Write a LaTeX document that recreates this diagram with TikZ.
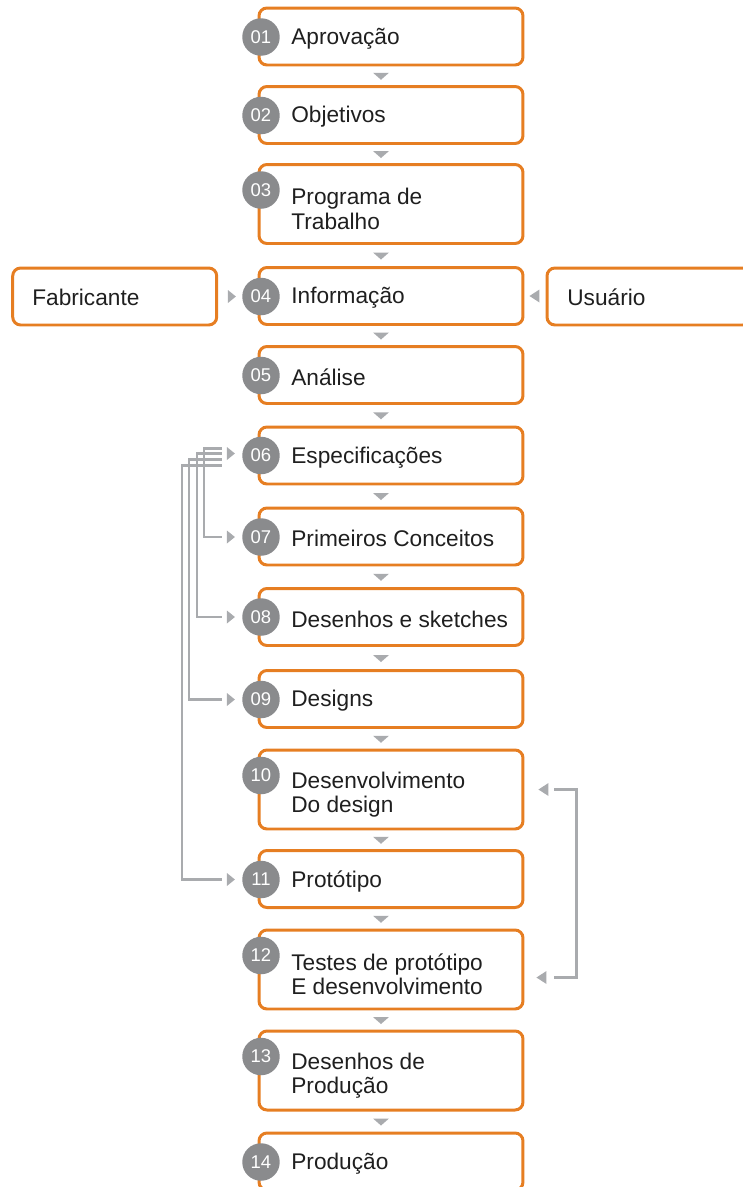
\documentclass[tikz,border=0pt]{standalone}
\usepackage{fontspec}
\setmainfont{Liberation Sans}
\usetikzlibrary{calc}

\definecolor{laranja}{HTML}{E67E22}
\definecolor{cinzaescuro}{HTML}{8A8B8D}
\definecolor{cinzaclaro}{HTML}{A9ABAE}

\begin{document}
\begin{tikzpicture}[x=0.02cm, y=-0.02cm,
    etapa/.style={draw=laranja, line width=1.7pt, rounded corners=4.5pt, minimum width=5.28cm, minimum height=1.14cm, inner sep=0pt},
    etapadupla/.style={etapa, minimum height=1.58cm},
    externo/.style={etapa, minimum width=4.08cm},
    rotulo/.style={anchor=west, align=left, inner sep=0pt, text=black!88, font=\fontsize{12.9}{13.8}\selectfont},
    numero/.style={circle, fill=cinzaescuro, text=white, minimum size=0.75cm, inner sep=0pt, font=\fontsize{10.5}{10.5}\selectfont},
    retorno/.style={draw=cinzaclaro, line width=1.5pt},
    ponta/.style={fill=cinzaclaro}]

    \useasboundingbox (0,0) rectangle (743,1187);

    % Caixas das etapas
    \node[etapa] (b01) at (391,36.5) {};
    \node[etapa] (b02) at (391,115) {};
    \node[etapadupla] (b03) at (391,204) {};
    \node[etapa] (b04) at (391,296) {};
    \node[etapa] (b05) at (391,375) {};
    \node[etapa] (b06) at (391,455.5) {};
    \node[etapa] (b07) at (391,536.5) {};
    \node[etapa] (b08) at (391,617) {};
    \node[etapa] (b09) at (391,699) {};
    \node[etapadupla] (b10) at (391,789.5) {};
    \node[etapa] (b11) at (391,879) {};
    \node[etapadupla] (b12) at (391,969.5) {};
    \node[etapadupla] (b13) at (391,1070.5) {};
    \node[etapa] (b14) at (391,1161.5) {};

    % Fontes externas
    \node[externo] (fab) at (114.7,296.5) {};
    \node[externo] (usu) at (649,296.5) {};
    \node[rotulo] (tfab) at (32,297.5) {Fabricante};
    \node[rotulo] (tusu) at (567,297.5) {Usuário};

    % Textos
    \node[rotulo] (t01) at (291,38.5) {Aprovação};
    \node[rotulo] (t02) at (291,117) {Objetivos};
    \node[rotulo] (t03) at (291,209) {Programa de\\Trabalho};
    \node[rotulo] (t04) at (291,298) {Informação};
    \node[rotulo] (t05) at (291,377) {Análise};
    \node[rotulo] (t06) at (291,457.5) {Especificações};
    \node[rotulo] (t07) at (291,538.5) {Primeiros Conceitos};
    \node[rotulo] (t08) at (291,619) {Desenhos e sketches};
    \node[rotulo] (t09) at (291,701) {Designs};
    \node[rotulo] (t10) at (291,794.5) {Desenvolvimento\\Do design};
    \node[rotulo] (t11) at (291,881) {Protótipo};
    \node[rotulo] (t12) at (291,974.5) {Testes de protótipo\\E desenvolvimento};
    \node[rotulo] (t13) at (291,1075.5) {Desenhos de\\Produção};
    \node[rotulo] (t14) at (291,1163.5) {Produção};

    % Numeros
    \node[numero] (n01) at (261,37) {01};
    \node[numero] (n02) at (261,115.5) {02};
    \node[numero] (n03) at (261,190) {03};
    \node[numero] (n04) at (261,296.5) {04};
    \node[numero] (n05) at (261,375.5) {05};
    \node[numero] (n06) at (261,455.5) {06};
    \node[numero] (n07) at (261,537) {07};
    \node[numero] (n08) at (261,617) {08};
    \node[numero] (n09) at (261,699.5) {09};
    \node[numero] (n10) at (261,775.5) {10};
    \node[numero] (n11) at (261,879.5) {11};
    \node[numero] (n12) at (261,955.5) {12};
    \node[numero] (n13) at (261,1056.5) {13};
    \node[numero] (n14) at (261,1162) {14};

    % Setas entre etapas
    \fill[ponta] ($(b01.south)!0.5!(b02.north)+(-10,4)$) -- ++(-8,-7) -- ++(16,0) -- cycle;
    \fill[ponta] ($(b02.south)!0.5!(b03.north)+(-10,4)$) -- ++(-8,-7) -- ++(16,0) -- cycle;
    \fill[ponta] ($(b03.south)!0.5!(b04.north)+(-10,4)$) -- ++(-8,-7) -- ++(16,0) -- cycle;
    \fill[ponta] ($(b04.south)!0.5!(b05.north)+(-10,4)$) -- ++(-8,-7) -- ++(16,0) -- cycle;
    \fill[ponta] ($(b05.south)!0.5!(b06.north)+(-10,4)$) -- ++(-8,-7) -- ++(16,0) -- cycle;
    \fill[ponta] ($(b06.south)!0.5!(b07.north)+(-10,4)$) -- ++(-8,-7) -- ++(16,0) -- cycle;
    \fill[ponta] ($(b07.south)!0.5!(b08.north)+(-10,4)$) -- ++(-8,-7) -- ++(16,0) -- cycle;
    \fill[ponta] ($(b08.south)!0.5!(b09.north)+(-10,4)$) -- ++(-8,-7) -- ++(16,0) -- cycle;
    \fill[ponta] ($(b09.south)!0.5!(b10.north)+(-10,4)$) -- ++(-8,-7) -- ++(16,0) -- cycle;
    \fill[ponta] ($(b10.south)!0.5!(b11.north)+(-10,4)$) -- ++(-8,-7) -- ++(16,0) -- cycle;
    \fill[ponta] ($(b11.south)!0.5!(b12.north)+(-10,4)$) -- ++(-8,-7) -- ++(16,0) -- cycle;
    \fill[ponta] ($(b12.south)!0.5!(b13.north)+(-10,4)$) -- ++(-8,-7) -- ++(16,0) -- cycle;
    \fill[ponta] ($(b13.south)!0.5!(b14.north)+(-10,4)$) -- ++(-8,-7) -- ++(16,0) -- cycle;

    % Entradas de informacao
    \fill[ponta] ($(n04.west)+(-6,0)$) -- ++(-8,-6.5) -- ++(0,13) -- cycle;
    \fill[ponta] ($(b04.east)+(5,0)$) -- ++(10,-6.5) -- ++(0,13) -- cycle;

    % Retornos a partir das especificacoes
    \draw[retorno] ($(n06.west)+(-20,-7)$) -| ($(n07.west)+(-38,0)$) -- ($(n07.west)+(-20,0)$);
    \draw[retorno] ($(n06.west)+(-20,-2)$) -| ($(n08.west)+(-45,0)$) -- ($(n08.west)+(-20,0)$);
    \draw[retorno] ($(n06.west)+(-20,4)$) -| ($(n09.west)+(-53,0)$) -- ($(n09.west)+(-20,0)$);
    \draw[retorno] ($(n06.west)+(-20,10)$) -| ($(n11.west)+(-60,0)$) -- ($(n11.west)+(-20,0)$);
    \fill[ponta] ($(n06.west)+(-7,-2)$) -- ++(-8,-6.5) -- ++(0,13) -- cycle;
    \fill[ponta] ($(n07.west)+(-7,0)$) -- ++(-8,-6.5) -- ++(0,13) -- cycle;
    \fill[ponta] ($(n08.west)+(-7,0)$) -- ++(-8,-6.5) -- ++(0,13) -- cycle;
    \fill[ponta] ($(n09.west)+(-7,0)$) -- ++(-8,-6.5) -- ++(0,13) -- cycle;
    \fill[ponta] ($(n11.west)+(-7,0)$) -- ++(-8,-6.5) -- ++(0,13) -- cycle;

    % Retorno dos testes ao desenvolvimento
    \draw[retorno] ($(b12.east)+(30,8)$) -- ++(22,0) |- ($(b10.east)+(30,0)$);
    \fill[ponta] ($(b10.east)+(14,0)$) -- ++(10,-6.5) -- ++(0,13) -- cycle;
    \fill[ponta] ($(b12.east)+(12,8)$) -- ++(10,-6.5) -- ++(0,13) -- cycle;

\end{tikzpicture}
\end{document}
